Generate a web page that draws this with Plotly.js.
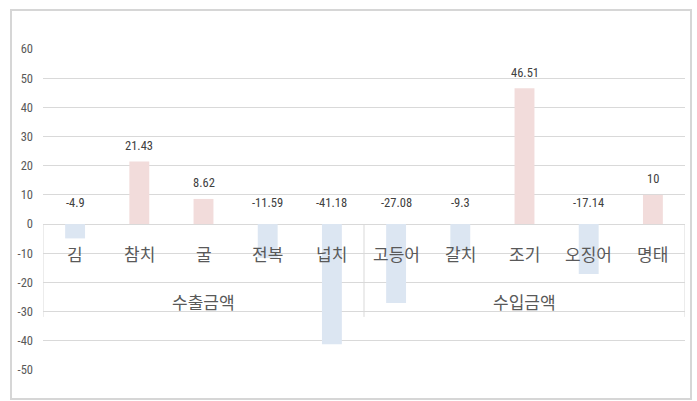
<!DOCTYPE html>
<html>
<head>
<meta charset="utf-8">
<script src="https://cdn.plot.ly/plotly-3.0.1.min.js"></script>
<style>
  html, body { margin: 0; padding: 0; background: #ffffff; }
  #wrap { position: relative; width: 697px; height: 401px; }
  #chart { position: absolute; left: 0; top: 0; width: 697px; height: 401px; }
  #frame { position: absolute; left: 10px; top: 9px; width: 678px; height: 387px;
           border: 2px solid #d6d6d6; pointer-events: none; }
</style>
</head>
<body>
<div id="wrap">
  <div id="chart"></div>
  <div id="frame"></div>
</div>
<script>
// ---- data ----
const categories = ["김", "참치", "굴", "전복", "넙치", "고등어", "갈치", "조기", "오징어", "명태"];
const values = [-4.9, 21.43, 8.62, -11.59, -41.18, -27.08, -9.3, 46.51, -17.14, 10];
const valueLabels = ["-4.9", "21.43", "8.62", "-11.59", "-41.18", "-27.08", "-9.3", "46.51", "-17.14", "10"];
const groups = ["수출금액", "수입금액"];
const groupSizes = [5, 5];
const yTicks = [60, 50, 40, 30, 20, 10, 0, -10, -20, -30, -40, -50];

// ---- styles ----
const POS = "#f2dcdb", NEG = "#dce6f2";
const TXT = "#595959", GRID = "#d9d9d9";
const KR = "'Noto Sans CJK KR', 'Noto Sans', sans-serif";
const NUM = "'Liberation Sans Narrow', 'Roboto Condensed', 'Liberation Sans', sans-serif";

const xs = categories.map((_, i) => i);

const trace = {
  type: "bar",
  x: xs,
  y: values,
  width: 0.31,
  marker: { color: values.map(v => v >= 0 ? POS : NEG), line: { width: 0 } },
  hoverinfo: "skip"
};

const annotations = [];
// data labels
values.forEach((v, i) => {
  annotations.push({
    x: i, y: Math.max(v, 0), xref: "x", yref: "y",
    text: valueLabels[i], showarrow: false,
    yanchor: "middle", yshift: v >= 0 ? 16 : 22,
    font: { family: NUM, size: 12.5, color: "#404040" }
  });
});
// category labels
categories.forEach((c, i) => {
  annotations.push({
    x: i, y: -10, xref: "x", yref: "y", text: c, showarrow: false,
    yanchor: "middle", font: { family: KR, size: 17, color: TXT }
  });
});
// group labels + separators
const shapes = [];
let start = 0;
groups.forEach((g, gi) => {
  const n = groupSizes[gi];
  annotations.push({
    x: start + (n - 1) / 2, y: -26.6, xref: "x", yref: "y", text: g, showarrow: false,
    yanchor: "middle", font: { family: KR, size: 17, color: TXT }
  });
  start += n;
});
const seps = [-0.5];
let acc = -0.5;
groupSizes.forEach(n => { acc += n; seps.push(acc); });
seps.forEach(s => {
  shapes.push({
    type: "line", xref: "x", yref: "y", x0: s, x1: s, y0: 0, y1: -31.8,
    line: { color: GRID, width: 1 }, layer: "below"
  });
});

const layout = {
  width: 697, height: 401,
  margin: { l: 43, r: 12, t: 49, b: 31 },
  paper_bgcolor: "#ffffff", plot_bgcolor: "#ffffff",
  showlegend: false,
  xaxis: {
    range: [-0.5, categories.length - 0.5],
    showticklabels: false, showgrid: false, zeroline: false, ticks: "",
    fixedrange: true
  },
  yaxis: {
    range: [-50, 60],
    tickvals: yTicks,
    ticktext: yTicks.map(String),
    showgrid: true, gridcolor: GRID, gridwidth: 1,
    zeroline: true, zerolinecolor: GRID, zerolinewidth: 1,
    ticks: "", ticklabelstandoff: 9,
    tickfont: { family: NUM, size: 12.5, color: TXT },
    fixedrange: true
  },
  annotations: annotations,
  shapes: shapes
};

Plotly.newPlot("chart", [trace], layout, { displayModeBar: false, staticPlot: true });
</script>
</body>
</html>
